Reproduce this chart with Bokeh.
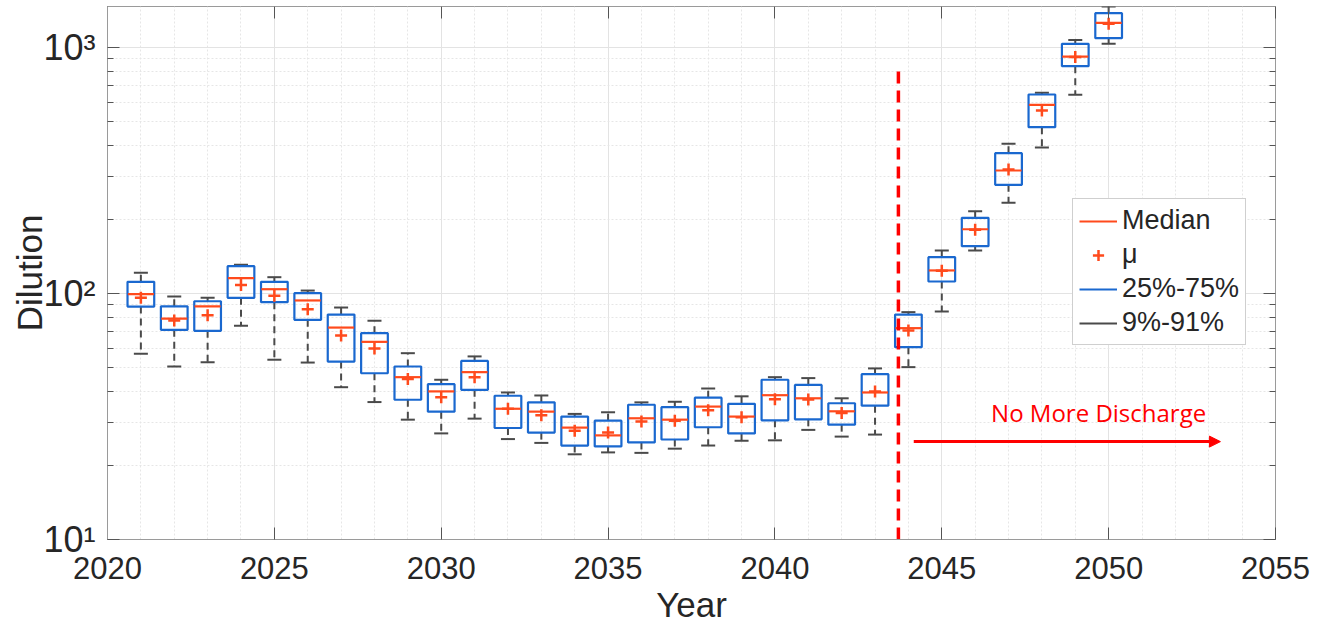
from bokeh.plotting import figure
from bokeh.models import (FixedTicker, LogAxis, LinearAxis, Legend, LegendItem,
                          Arrow, NormalHead, Label, ColumnDataSource)
from bokeh.transform import dodge
from bokeh.embed import file_html
from bokeh.resources import INLINE

# ---------------- data ----------------
years = list(range(2021, 2051))
p09 = [56.9, 50.5, 52.6, 73.9, 53.8, 52.4, 41.6, 36.2, 30.7, 27.0,
       31.0, 25.6, 24.7, 22.2, 22.6, 22.5, 23.4, 24.1, 25.2, 25.3,
       27.9, 26.2, 26.7, 50.2, 84.5, 149.6, 233.7, 392.4, 642.3, 1035]
p25 = [88.5, 71.2, 70.5, 96.0, 92.2, 78.2, 52.9, 47.4, 37.0, 33.1,
       40.6, 28.4, 27.2, 24.1, 23.9, 24.8, 25.5, 28.6, 27.0, 30.5,
       30.8, 29.3, 35.0, 60.5, 111.9, 155.7, 276.7, 474.3, 839.5, 1091]
median = [99.4, 79.1, 88.7, 115.4, 104.1, 93.7, 72.7, 63.6, 45.7, 40.0,
          47.9, 34.0, 33.1, 28.5, 26.5, 31.1, 30.7, 34.7, 31.6, 38.6,
          37.5, 33.2, 39.6, 72.3, 124.1, 182.5, 316.2, 584.8, 919.1, 1260]
mean = [96.0, 77.7, 81.6, 108.4, 97.9, 86.3, 67.5, 59.8, 44.9, 37.9,
        45.7, 34.0, 32.0, 27.7, 27.2, 30.2, 30.4, 33.5, 31.4, 37.2,
        37.1, 32.7, 40.0, 70.7, 123.6, 181.6, 319.2, 554.5, 915.0, 1248]
p75 = [111.6, 88.7, 93.0, 129.1, 111.6, 100.3, 82.1, 69.0, 50.5, 42.8,
       53.2, 38.4, 36.1, 31.6, 30.4, 35.3, 34.5, 37.7, 35.6, 44.6,
       42.5, 35.8, 47.0, 82.1, 140.5, 203.1, 371.8, 644.2, 1035, 1379]
p91 = [121.4, 97.2, 96.0, 130.8, 116.5, 102.8, 87.7, 77.5, 57.2, 44.6,
       55.5, 39.6, 38.5, 32.4, 32.9, 36.1, 36.3, 41.1, 38.2, 45.7,
       45.3, 37.5, 49.6, 84.0, 149.6, 216.1, 406.1, 654.3, 1074, 1468]

x_ticks = [2020, 2025, 2030, 2035, 2040, 2045, 2050, 2055]
x_minor = list(range(2020, 2056))
y_ticks = [10, 100, 1000]
y_tick_labels = ["10\u00b9", "10\u00b2", "10\u00b3"]
y_minor = [20, 30, 40, 50, 60, 70, 80, 90, 200, 300, 400, 500, 600, 700, 800, 900]
legend_labels = ["Median", "\u03bc", "25%-75%", "9%-91%"]

# annotation
cutoff_year = 2043.7
cutoff_top = 819
arrow_x = (2044.16, 2053.35)
arrow_y = 25.0
note_text = "No More Discharge"
note_pos = (2049.7, 32.8)

# ---------------- styling ----------------
BLUE = "#1a68cf"
ORANGE = "#ff4a1c"
GRAY = "#4a4a4a"
TXT = "#262626"
FONT = "Liberation Sans"

src = ColumnDataSource(dict(year=years, p09=p09, p25=p25, median=median,
                            mean=mean, p75=p75, p91=p91))

p = figure(frame_width=1168, frame_height=533, x_range=(2020, 2055),
           y_range=(10, 1468), y_axis_type="log", output_backend="svg",
           toolbar_location=None, min_border_left=107, min_border_right=40,
           min_border_top=1, min_border_bottom=0,
           background_fill_color="white", border_fill_color="white")
p.styles = {"margin-top": "5px", "margin-bottom": "-40px"}
p.outline_line_color = "#9a9a9a"
p.outline_line_width = 1

# axes
xt = FixedTicker(ticks=x_ticks, minor_ticks=x_minor)
yt = FixedTicker(ticks=y_ticks, minor_ticks=y_minor)
xa = p.xaxis[0]
xa.ticker = xt
xa.axis_label = "Year"
ya = p.yaxis[0]
ya.ticker = yt
ya.axis_label = "Dilution"
ya.major_label_overrides = dict(zip(y_ticks, y_tick_labels))

for ax, fs in ((xa, "31px"), (ya, "36px")):
    ax.axis_line_color = "#9a9a9a"
    ax.major_tick_line_color = "#555555"
    ax.minor_tick_line_color = "#555555"
    ax.major_tick_in = 12
    ax.major_tick_out = 0
    ax.minor_tick_out = 0
    ax.major_label_text_font = FONT
    ax.major_label_text_font_size = fs
    ax.major_label_text_color = TXT
    ax.axis_label_text_font = FONT
    ax.axis_label_text_font_size = "35px"
    ax.axis_label_text_font_style = "normal"
    ax.axis_label_text_color = TXT
xa.minor_tick_in = 0
ya.minor_tick_in = 6
xa.major_label_standoff = 17
xa.axis_label_standoff = 3
ya.major_label_standoff = 12
ya.axis_label_standoff = -9

# mirrored axes (ticks only)
top = LinearAxis(ticker=xt)
right = LogAxis(ticker=yt)
for ax in (top, right):
    ax.major_label_text_font_size = "0px"
    ax.major_label_text_alpha = 0
    ax.major_label_standoff = 0
    ax.axis_line_color = None
    ax.major_tick_line_color = "#555555"
    ax.minor_tick_line_color = "#555555"
    ax.major_tick_in = 12
    ax.major_tick_out = 0
    ax.minor_tick_out = 0
top.minor_tick_in = 0
right.minor_tick_in = 6
p.add_layout(top, "above")
p.add_layout(right, "right")

# grids
for g in (p.xgrid[0], p.ygrid[0]):
    g.grid_line_color = "#e3e3e3"
    g.grid_line_width = 1
    g.minor_grid_line_color = "#e6e6e6"
    g.minor_grid_line_dash = "2 2"
p.xgrid[0].ticker = xt
p.ygrid[0].ticker = yt

# ---------------- boxes ----------------
p.segment(x0="year", y0="p75", x1="year", y1="p91", source=src,
          line_color=GRAY, line_width=2, line_dash="7 5")
p.segment(x0="year", y0="p25", x1="year", y1="p09", source=src,
          line_color=GRAY, line_width=2, line_dash="7 5")
r_cap_hi = p.segment(x0=dodge("year", -0.21), x1=dodge("year", 0.21), y0="p91", y1="p91",
                     source=src, line_color=GRAY, line_width=2)
p.segment(x0=dodge("year", -0.21), x1=dodge("year", 0.21), y0="p09", y1="p09",
          source=src, line_color=GRAY, line_width=2)
p.vbar(x="year", width=0.8, bottom="p25", top="p75", source=src,
       fill_alpha=0, line_color=BLUE, line_width=2.2)
r_med = p.segment(x0=dodge("year", -0.39), x1=dodge("year", 0.39), y0="median", y1="median",
                  source=src, line_color=ORANGE, line_width=2.2)
r_mean = p.scatter(x="year", y="mean", source=src, marker="cross", size=12,
                   line_color=ORANGE, line_width=2.5)

# ---------------- annotation ----------------
p.line(x=[cutoff_year, cutoff_year], y=[10, cutoff_top], line_color="#ff0000",
       line_width=3.5, line_dash="12 7")
p.add_layout(Arrow(end=NormalHead(size=11, fill_color="#ff0000", line_color="#ff0000"),
                   x_start=arrow_x[0], y_start=arrow_y, x_end=arrow_x[1], y_end=arrow_y,
                   line_color="#ff0000", line_width=3))
p.add_layout(Label(x=note_pos[0], y=note_pos[1], text=note_text, text_align="center",
                   text_baseline="middle", text_color="#ff0000", text_font="Open Sans",
                   text_font_size="24px"))

# ---------------- legend ----------------
nan = float("nan")
lg_box = p.line(x=[nan], y=[nan], line_color=BLUE, line_width=2)
legend = Legend(items=[LegendItem(label=legend_labels[0], renderers=[r_med]),
                       LegendItem(label=legend_labels[1], renderers=[r_mean]),
                       LegendItem(label=legend_labels[2], renderers=[lg_box]),
                       LegendItem(label=legend_labels[3], renderers=[r_cap_hi])],
                location=(965, 194), padding=6, spacing=3, label_standoff=5,
                glyph_width=38, glyph_height=28, margin=0,
                label_text_font=FONT, label_text_font_size="27px",
                label_text_color=TXT, border_line_color="#a0a0a0",
                border_line_width=1, background_fill_color="white",
                background_fill_alpha=1)
p.add_layout(legend)

open("out.html", "w").write(file_html(p, INLINE))
